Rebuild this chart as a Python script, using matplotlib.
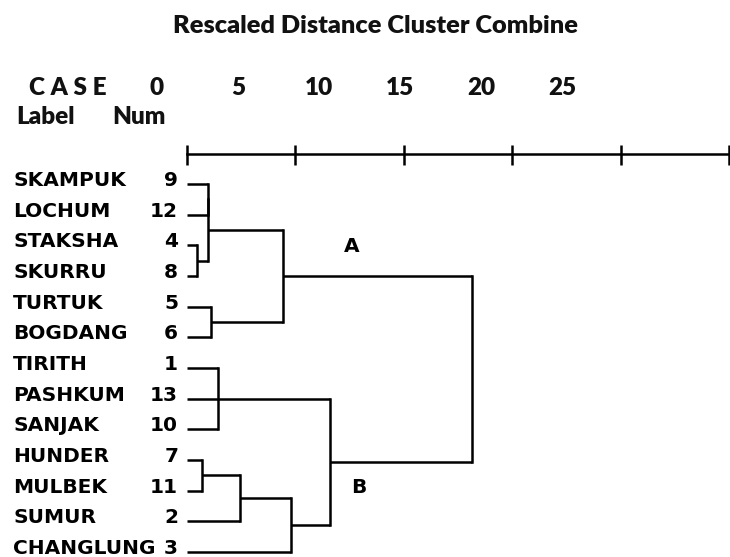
import matplotlib.pyplot as plt

# cases in dendrogram order (top to bottom)
case_labels = ["SKAMPUK", "LOCHUM", "STAKSHA", "SKURRU", "TURTUK", "BOGDANG",
               "TIRITH", "PASHKUM", "SANJAK", "HUNDER", "MULBEK", "SUMUR", "CHANGLUNG"]
case_nums = [9, 12, 4, 8, 5, 6, 1, 13, 10, 7, 11, 2, 3]

# agglomeration steps: members are case numbers or earlier steps ("m<i>")
merge_a = [4, 7, 9, "m2", 5, 1, "m5", "m1", "m3", "m7", "m6", "m8"]
merge_b = [8, 11, 12, "m0", 6, 10, 13, 2, "m4", 3, "m9", "m10"]
merge_dist = [0.46, 0.69, 0.97, 0.97, 1.10, 1.43, 1.43, 2.44, 4.42, 4.79, 6.58, 13.12]

scale_ticks = [0, 5, 10, 15, 20, 25]
scale_labels = ["0", "5", "10", "15", "20", "25"]

W, H = 730, 557
fig = plt.figure(figsize=(W / 100, H / 100), dpi=100)
ax = fig.add_axes([0, 0, 1, 1])
ax.axis("off")
# x: rescaled distance, y: case row
ax.set_xlim(-8.61, 25.03)
ax.set_ylim(12.16, -6.0)

lw = 1.8
label_font = dict(family="DejaVu Sans", weight="bold", size=14.5, color="black")
head_font = dict(family="Lato", weight="heavy", size=17.5, color="#111111")

def px(x, y):
    return x / W, 1 - y / H

# header
fig.text(*px(375, 26), "Rescaled Distance Cluster Combine", ha="center", va="center",
         **dict(head_font, size=18.3))
fig.text(*px(29, 88), "C A S E", ha="left", va="center", **head_font)
fig.text(*px(16, 117), "Label", ha="left", va="center", **head_font)
fig.text(*px(112, 117), "Num", ha="left", va="center", **head_font)
for i, s in enumerate(scale_labels):
    fig.text(*px(157 + 81 * i, 88), s, ha="center", va="center", **head_font)

# scale bar
scale_row = -0.98
ax.plot([scale_ticks[0], scale_ticks[-1]], [scale_row, scale_row], color="black", lw=lw)
ax.vlines(scale_ticks, scale_row - 0.3, scale_row + 0.36, color="black", lw=lw)

# case labels
for i, (lab, num) in enumerate(zip(case_labels, case_nums)):
    ax.text(-8.0, i - 0.12, lab, ha="left", va="center", **label_font)
    ax.text(-0.4, i - 0.12, str(num), ha="right", va="center", **label_font)

# dendrogram
pos = {num: (i, 0.0) for i, num in enumerate(case_nums)}
for k, (a, b, d) in enumerate(zip(merge_a, merge_b, merge_dist)):
    ya, da = pos[a]
    yb, db = pos[b]
    ax.plot([da, d], [ya, ya], color="black", lw=lw, solid_capstyle="butt")
    ax.plot([db, d], [yb, yb], color="black", lw=lw, solid_capstyle="butt")
    ax.plot([d, d], [ya, yb], color="black", lw=lw, solid_capstyle="projecting")
    pos["m%d" % k] = ((ya + yb) / 2, d)

ax.text(7.6, 2.05, "A", ha="center", va="center", **label_font)
ax.text(7.92, 9.91, "B", ha="center", va="center", **label_font)

fig.savefig("out.png", dpi=100, facecolor="white")
